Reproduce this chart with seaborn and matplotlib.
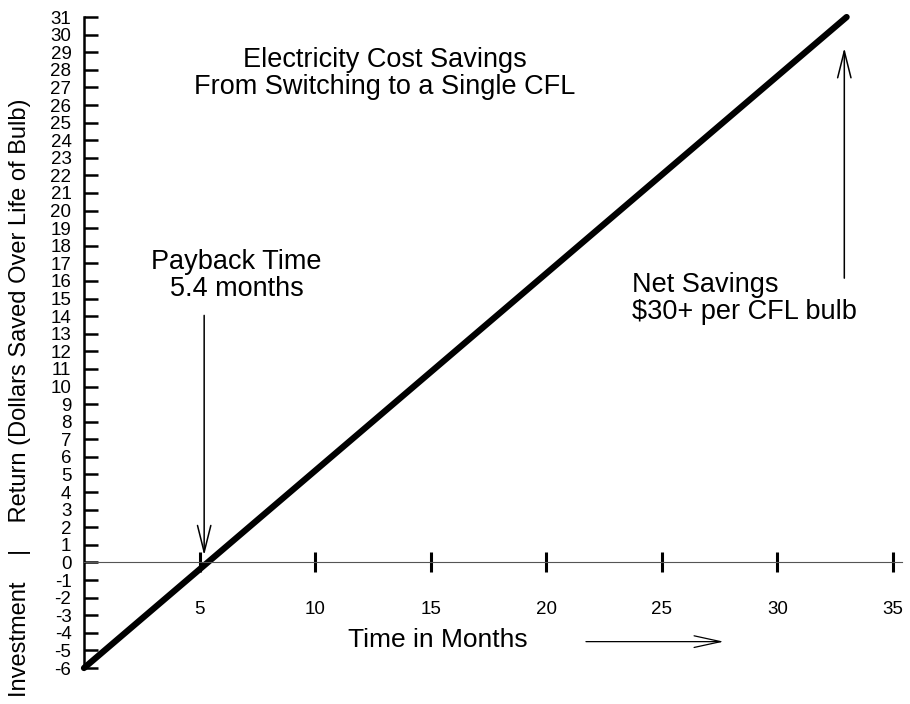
import pandas as pd
import matplotlib.pyplot as plt
import seaborn as sns

months = [0, 33]
savings = [-6, 31]
x_ticks = [5, 10, 15, 20, 25, 30, 35]
y_ticks = list(range(-6, 32))
payback_months = 5.2
net_savings_month = 32.9

df = pd.DataFrame({"Months": months, "Savings": savings})

sns.set_theme(style="white")
plt.rcParams['font.family'] = ['Liberation Sans', 'DejaVu Sans']
plt.rcParams['text.color'] = 'black'
plt.rcParams['xtick.color'] = 'black'
plt.rcParams['ytick.color'] = 'black'

fig = plt.figure(figsize=(9.10, 7.04), dpi=100)
ax = fig.add_axes([0.0923, 0.0511, 0.899, 0.9247])

sns.lineplot(data=df, x="Months", y="Savings", color="black", linewidth=4.5,
             solid_capstyle="round", clip_on=False, ax=ax)

ax.set_xlim(0, 35.4)
ax.set_ylim(-6, 31)

for side in ["top", "right"]:
    ax.spines[side].set_visible(False)
ax.spines["left"].set_color("black")
ax.spines["left"].set_linewidth(1.8)
ax.spines["bottom"].set_position(("data", 0))
ax.spines["bottom"].set_color("#555555")
ax.spines["bottom"].set_linewidth(0.8)

ax.set_yticks(y_ticks)
ax.set_yticklabels([str(v) for v in y_ticks], fontsize=13.5)
ax.tick_params(axis="y", direction="in", length=10, width=1.8,
               pad=9, left=True)
ax.set_xticks(x_ticks)
ax.set_xticklabels([str(v) for v in x_ticks], fontsize=13.5)
ax.tick_params(axis="x", direction="inout", length=15, width=2.2,
               pad=20, bottom=True)
ax.set_xlabel("")
ax.set_ylabel("")

ax.text(13.0, 27.8, "Electricity Cost Savings\nFrom Switching to a Single CFL",
        ha="center", va="center", fontsize=19.5, linespacing=1.05)

ax.annotate("", xy=(payback_months, 0.25), xytext=(payback_months, 14.2),
            arrowprops=dict(arrowstyle="->,head_length=1.6,head_width=0.4",
                            color="black", lw=1.1))
ax.text(6.6, 16.3, "Payback Time\n5.4 months", ha="center", va="center",
        fontsize=19.5, linespacing=1.05)

ax.annotate("", xy=(net_savings_month, 29.4), xytext=(net_savings_month, 16.0),
            arrowprops=dict(arrowstyle="->,head_length=1.6,head_width=0.4",
                            color="black", lw=1.1))
ax.text(23.7, 15.0, "Net Savings\n$30+ per CFL bulb", ha="left", va="center",
        fontsize=19.5, linespacing=1.05)

ax.text(15.3, -4.4, "Time in Months", ha="center", va="center", fontsize=19)
ax.annotate("", xy=(27.8, -4.5), xytext=(21.6, -4.5),
            arrowprops=dict(arrowstyle="->,head_length=1.6,head_width=0.35",
                            color="black", lw=0.9))

fig.text(20 / 910, 0.01, "Investment    |    Return (Dollars Saved Over Life of Bulb)",
         rotation=90, ha="center", va="bottom", fontsize=17)

fig.savefig("out.png", dpi=100)
